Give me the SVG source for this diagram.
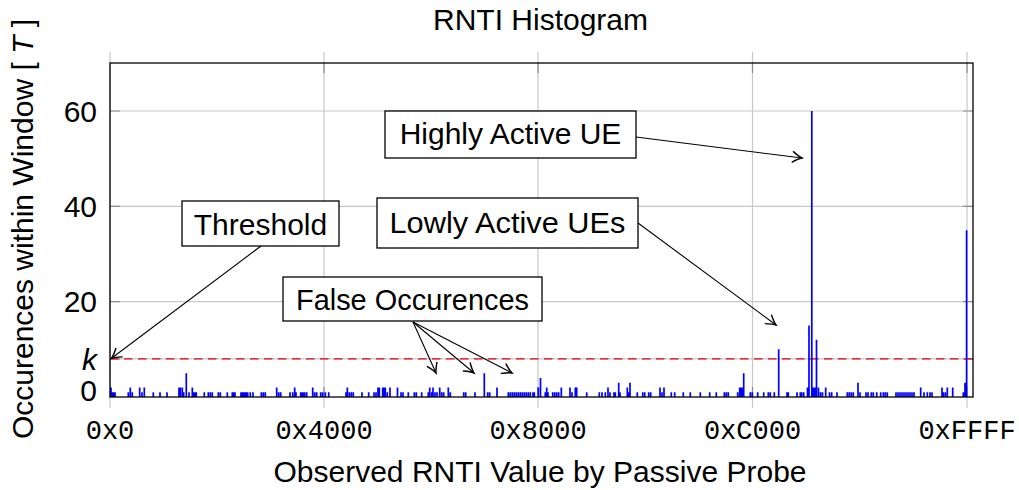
<svg xmlns="http://www.w3.org/2000/svg" width="1019" height="490" viewBox="0 0 1019 490">
  <style>
    .sans { font-family: "Liberation Sans", Arial, sans-serif; font-size: 30px; fill: #000; }
    .mono { font-family: "Liberation Mono", "Courier New", monospace; font-size: 27px; fill: #000; }
    .grid { stroke: #c8c8c8; stroke-width: 1.2; fill: none; }
    .tick { stroke: #8c8c8c; stroke-width: 1.2; fill: none; }
    .frame { stroke: #000; stroke-width: 1.3; fill: none; }
    .thresh { stroke: #e8000b; stroke-width: 1.3; stroke-dasharray: 8.5 5.5; fill: none; }
    .bars { stroke: #0000ff; stroke-width: 1.7; fill: none; }
    .label-box { fill: #fff; stroke: #000; stroke-width: 1.3; }
    .conn { stroke: #000; stroke-width: 1.1; fill: none; marker-end: url(#tip); }
  </style>
  <defs>
    <marker id="tip" markerUnits="userSpaceOnUse" markerWidth="14" markerHeight="14" viewBox="-10 -6 12 12" refX="0" refY="0" orient="auto">
      <path d="M-8,-4.5 Q-3,-1 0,0 Q-3,1 -8,4.5" fill="none" stroke="#000" stroke-width="1.2" stroke-linecap="round"/>
    </marker>
  </defs>

  <rect width="1019" height="490" fill="#fff"/>

  <!-- grid -->
  <g id="grid">
    <path class="grid" d="M110,52V408 M324,52V408 M538,52V408 M752.5,52V408 M967,52V408"/>
    <path class="grid" d="M110,111H973 M110,206.3H973 M110,301.7H973 M110,358.9H973"/>
    <path class="tick" d="M110,111h10 M110,206.3h10 M110,301.7h10 M110,358.9h10 M973,111h-10 M973,206.3h-10 M973,301.7h-10 M973,358.9h-10"/>
    <path class="tick" d="M324,63v10 M538,63v10 M752.5,63v10 M967,63v10 M324,397v-10 M538,397v-10 M752.5,397v-10 M967,397v-10"/>
  </g>

  <!-- threshold k -->
  <path id="threshold-line" class="thresh" d="M110,358.9H973"/>

  <!-- histogram bars (1 unit = 4.767 px, baseline y=397) -->
  <path id="bars" class="bars" d="
    M111,397V387.5 M112.3,397V392.2 M113.5,397V392.2 M115,397V392.2 M128.3,397V392.2 M130.3,397V387.5 M132.3,397V392.2
    M139.7,397V387.5 M142,397V392.2 M144.3,397V387.5 M153.3,397V392.2 M160,397V392.2 M167,397V392.2
    M179,397V387.5 M180.3,397V387.5 M182.3,397V387.5 M183.7,397V392.2 M186.3,397V373.2 M189,397V392.2
    M192.3,397V387.5 M193.7,397V392.2 M195,397V392.2 M196.3,397V392.2 M204.3,397V392.2 M208.3,397V392.2 M210.3,397V392.2 M212.3,397V392.2
    M218.3,397V392.2 M220.3,397V392.2 M227.3,397V392.2 M232.3,397V392.2 M233.7,397V392.2 M235,397V392.2
    M241,397V392.2 M242.3,397V392.2 M243.7,397V392.2 M245,397V392.2 M246.3,397V392.2 M247.7,397V392.2 M250.3,397V392.2 M253,397V392.2
    M261.3,397V392.2 M263.3,397V392.2 M265.3,397V392.2 M276.7,397V387.5 M278.7,397V392.2 M280.7,397V392.2
    M290,397V392.2 M292.7,397V392.2 M294.7,397V387.5 M296,397V392.2 M300.7,397V392.2 M302,397V392.2 M303.3,397V392.2 M304.7,397V392.2 M306.7,397V392.2
    M312.7,397V387.5 M314.7,397V392.2 M316.7,397V392.2 M320.7,397V392.2 M322.7,397V392.2 M325.3,397V392.2 M328.7,397V392.2
    M346,397V392.2 M347.3,397V387.5 M349.3,397V392.2 M351.3,397V392.2 M353.3,397V392.2 M362,397V392.2 M368.7,397V392.2
    M374,397V392.2 M376,397V392.2 M378,397V387.5 M379.3,397V387.5 M382.7,397V387.5 M384,397V387.5 M385.3,397V387.5 M387.3,397V392.2
    M390,397V387.5 M397.5,397V387.5 M401,397V392.2 M403,397V392.2 M408.3,397V392.2 M414.3,397V392.2 M416.3,397V392.2 M421.7,397V392.2
    M428.3,397V392.2 M429.7,397V387.5 M431.7,397V392.2 M433,397V387.5 M435,397V392.2 M437,397V392.2 M439.7,397V387.5 M441.7,397V392.2 M443.7,397V392.2
    M448.3,397V387.5 M450.3,397V392.2 M463.7,397V392.2 M465.7,397V392.2 M475,397V392.2 M484.3,397V373.2 M487.7,397V392.2 M489.7,397V392.2 M497,397V387.5
    M508.3,397V392.2 M510.3,397V392.2 M512.3,397V392.2 M514.3,397V392.2 M516.3,397V392.2 M518.3,397V392.2 M520.3,397V392.2 M522.3,397V392.2
    M524.3,397V392.2 M526.3,397V392.2 M528.3,397V392.2 M530.3,397V392.2 M533,397V392.2 M534.3,397V392.2 M538.3,397V387.5 M540.5,397V377.9
    M545.3,397V392.2 M546.7,397V387.5 M548,397V392.2 M552.7,397V392.2 M554.7,397V392.2 M556.7,397V392.2 M558.7,397V392.2 M561.3,397V387.5
    M570,397V387.5 M572,397V392.2 M575.3,397V387.5 M576.7,397V387.5 M586.7,397V392.2 M599.3,397V392.2 M602,397V392.2
    M605.3,397V392.2 M608,397V387.5 M610,397V392.2 M614,397V392.2 M615.3,397V392.2 M618.7,397V382.7 M620,397V392.2
    M627.3,397V387.5 M628.7,397V392.2 M630,397V382.7 M637.3,397V392.2 M642.7,397V392.2 M644.7,397V392.2 M648.7,397V392.2 M650.7,397V392.2
    M660,397V387.5 M662,397V392.2 M664,397V387.5 M671.3,397V392.2 M674.7,397V392.2 M683.3,397V392.2
    M690.3,397V392.2 M700.3,397V392.2 M709.7,397V392.2 M716.3,397V392.2 M724.3,397V392.2 M726.3,397V392.2 M728.3,397V392.2
    M737.7,397V392.2 M739.7,397V387.5 M741,397V387.5 M742.3,397V387.5 M743.7,397V373.2 M750.3,397V392.2 M752.3,397V392.2 M757.7,397V392.2
    M763.7,397V392.2 M768.3,397V392.2 M770.3,397V392.2 M774.3,397V392.2 M778.7,397V349.3 M787,397V392.2 M788.3,397V392.2
    M797,397V392.2 M800.3,397V392.2 M801.7,397V392.2 M803.7,397V392.2 M807.5,397V387.5 M809,397V325.5 M811.8,397V111 M813.5,397V387.5
    M815,397V387.5 M816.5,397V339.8 M818.5,397V387.5 M820.5,397V392.2 M822.5,397V392.2 M825.7,397V387.5 M829.5,397V392.2 M831.7,397V392.2
    M837,397V392.2 M847.3,397V392.2 M849.3,397V392.2 M851.3,397V392.2 M853.3,397V392.2 M858,397V382.7 M860,397V392.2
    M866,397V392.2 M868,397V392.2 M871.3,397V392.2 M873.3,397V392.2 M876.7,397V392.2 M880.7,397V392.2 M883.3,397V392.2 M885.3,397V392.2 M887.3,397V392.2
    M896,397V392.2 M898,397V392.2 M900,397V392.2 M902,397V392.2 M904,397V392.2 M906,397V392.2 M908,397V392.2 M910,397V392.2 M912,397V392.2 M914,397V392.2
    M920.7,397V387.5 M924,397V392.2 M927.3,397V392.2 M930,397V392.2 M932,397V392.2 M942,397V387.5 M943.3,397V392.2 M945.3,397V392.2 M947.3,397V387.5
    M952.7,397V387.5 M963.3,397V392.2 M965,397V382.7 M966.6,397V230.2"/>

  <!-- axis frame -->
  <rect id="frame" class="frame" x="110" y="63" width="863" height="334"/>

  <!-- tick labels -->
  <g id="x-ticks" class="mono" text-anchor="middle">
    <text x="110" y="439">0x0</text>
    <text x="324" y="439">0x4000</text>
    <text x="538" y="439">0x8000</text>
    <text x="752.5" y="439">0xC000</text>
    <text x="967" y="439">0xFFFF</text>
  </g>
  <g id="y-ticks" class="sans" text-anchor="end">
    <text x="97" y="121.5">60</text>
    <text x="97" y="216.5">40</text>
    <text x="97" y="312">20</text>
    <text x="97" y="370" font-style="italic">k</text>
    <text x="97" y="401">0</text>
  </g>

  <!-- titles -->
  <text id="title" class="sans" x="540.5" y="30" text-anchor="middle">RNTI Histogram</text>
  <text id="x-label" class="sans" x="540" y="482" text-anchor="middle">Observed RNTI Value by Passive Probe</text>
  <text id="y-label" class="sans" transform="translate(33,229) rotate(-90)" text-anchor="middle" font-size="30.5">Occurences within Window [ <tspan font-style="italic">T</tspan> ]</text>

  <!-- connectors -->
  <g id="connectors">
    <path class="conn" d="M636,137L802,158"/>
    <path class="conn" d="M638,223L776,325"/>
    <path class="conn" d="M261,246L111.5,358.3"/>
    <path class="conn" d="M413,322L436,373"/>
    <path class="conn" d="M413,322L474,373"/>
    <path class="conn" d="M413,322L512,373"/>
  </g>

  <!-- annotation nodes -->
  <g id="node-highly-active">
    <rect class="label-box" x="385" y="111" width="251" height="47"/>
    <text class="sans" x="510.5" y="144" text-anchor="middle">Highly Active UE</text>
  </g>
  <g id="node-threshold">
    <rect class="label-box" x="182" y="201" width="157" height="45"/>
    <text class="sans" x="260.5" y="235" text-anchor="middle">Threshold</text>
  </g>
  <g id="node-lowly-active">
    <rect class="label-box" x="377" y="198" width="261" height="50"/>
    <text class="sans" x="507.5" y="233" text-anchor="middle" textLength="236" lengthAdjust="spacingAndGlyphs">Lowly Active UEs</text>
  </g>
  <g id="node-false-occurences">
    <rect class="label-box" x="283" y="277" width="259" height="44"/>
    <text class="sans" x="412.5" y="310" text-anchor="middle" textLength="233" lengthAdjust="spacingAndGlyphs">False Occurences</text>
  </g>
</svg>
